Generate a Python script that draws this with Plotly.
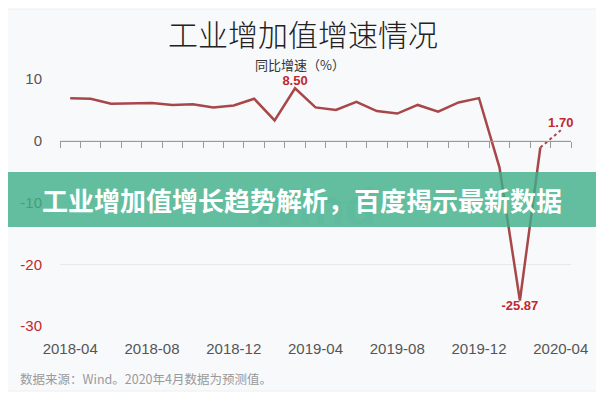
import plotly.graph_objects as go

# ---- data ----
months = ["2018-04", "2018-05", "2018-06", "2018-07", "2018-08", "2018-09", "2018-10",
          "2018-11", "2018-12", "2019-01", "2019-02", "2019-03", "2019-04", "2019-05",
          "2019-06", "2019-07", "2019-08", "2019-09", "2019-10", "2019-11", "2019-12",
          "2020-01", "2020-02", "2020-03", "2020-04"]
growth = [6.9, 6.8, 6.0, 6.0, 6.1, 5.8, 5.9, 5.4, 5.7, 6.8, 3.3, 8.5, 5.4, 5.0,
          6.3, 4.8, 4.4, 5.8, 4.7, 6.2, 6.9, -4.3, -25.87, -1.1, 1.70]
actual_count = 24          # last value is a forecast
tick_labels = ["2018-04", "2018-08", "2018-12", "2019-04", "2019-08", "2019-12", "2020-04"]
y_ticks = [-30, -20, -10, 0, 10]
labelled = {"2019-03": "8.50", "2020-02": "-25.87", "2020-04": "1.70"}

title_text = "工业增加值增速情况"
subtitle_text = "同比增速（%）"
banner_text = "工业增加值增长趋势解析，百度揭示最新数据"
note_text = "数据来源：Wind。2020年4月数据为预测值。"

# ---- geometry helpers (page pixels; the page adds an 8px body margin) ----
OFF = 8
W, H = 596, 392
PLOT_L, PLOT_R, PLOT_T, PLOT_B = 60, 571, 79, 326   # page pixels
L, T = PLOT_L - OFF, PLOT_T - OFF
PW, PH = PLOT_R - PLOT_L, PLOT_B - PLOT_T
R, B = W - L - PW, H - T - PH


def px(x):
    return (x - PLOT_L) / PW


def py(y):
    return (PLOT_B - y) / PH


LINE = "#a8474a"
RED = "#c0282d"
CJK = "Noto Sans CJK SC"
LAT = "Liberation Sans, Arial"

act_x = months[:actual_count]
act_y = growth[:actual_count]
act_text = [labelled.get(m, "") for m in act_x]
act_pos = ["bottom center" if v < 0 else "top center" for v in act_y]

fc_x = months[actual_count - 1:]
fc_y = growth[actual_count - 1:]
fc_text = [labelled.get(m, "") for m in fc_x]

fig = go.Figure()
# invisible trace registering categories on the zero-line axis
fig.add_trace(go.Scatter(x=months, y=growth, xaxis="x2", yaxis="y", mode="lines",
                         line=dict(width=0), opacity=0, hoverinfo="skip", showlegend=False))
fig.add_trace(go.Scatter(x=act_x, y=act_y, mode="lines+text", text=act_text,
                         textposition=act_pos,
                         textfont=dict(family=LAT, size=13, color=RED, weight="bold"),
                         line=dict(color=LINE, width=2.5), showlegend=False, cliponaxis=False))
fig.add_trace(go.Scatter(x=fc_x, y=fc_y, mode="lines+text", text=fc_text,
                         textposition="top center",
                         textfont=dict(family=LAT, size=13, color=RED, weight="bold"),
                         line=dict(color=LINE, width=2, dash="dot"), showlegend=False,
                         cliponaxis=False))

ytext = []
for v in y_ticks:
    col = RED if v < -10 else "#555555"
    ytext.append(f'<span style="color:{col}">{v}</span>')

fig.update_layout(
    width=W, height=H, autosize=False,
    margin=dict(l=L, r=R, t=T, b=B, pad=0),
    paper_bgcolor="white", plot_bgcolor="rgba(0,0,0,0)",
    xaxis=dict(type="category", categoryorder="array", categoryarray=months,
               range=[-0.5, len(months) - 0.5],
               tickmode="array", tickvals=tick_labels, ticktext=tick_labels,
               ticks="", showline=False, showgrid=False, zeroline=False,
               tickfont=dict(family=LAT, size=15, color="#555555"),
               ticklabelstandoff=12),
    xaxis2=dict(type="category", categoryorder="array", categoryarray=months,
                overlaying="x", anchor="free", position=30 / 40,
                range=[-0.5, len(months) - 0.5],
                showline=True, linecolor="#9a9a9a", linewidth=1,
                ticks="outside", ticklen=6, tickcolor="#9a9a9a", tickwidth=1,
                tickson="boundaries", showticklabels=False, showgrid=False, zeroline=False),
    yaxis=dict(range=[-30, 10], tickmode="array", tickvals=y_ticks, ticktext=ytext,
               showgrid=True, gridcolor="#e7e8ea", gridwidth=1, zeroline=False,
               showline=False, ticks="",
               tickfont=dict(family=LAT, size=15, color="#555555"),
               ticklabelstandoff=17),
    shapes=[
        dict(type="rect", xref="paper", yref="paper", x0=px(7), x1=px(597),
             y0=py(391), y1=py(9), fillcolor="#f8f9fb", line=dict(color="#eceef1", width=1),
             layer="below"),
    ],
    annotations=[
        dict(text=title_text, xref="paper", yref="paper", x=px(303), y=py(33),
             xanchor="center", yanchor="middle",
             showarrow=False, font=dict(family=CJK, size=30, color="#222222", weight=300)),
        dict(text=subtitle_text, xref="paper", yref="paper", x=px(300), y=py(64),
             xanchor="center", yanchor="middle",
             showarrow=False, font=dict(family=CJK, size=13, color="#333333")),
        dict(text="Wind", xref="paper", yref="paper", x=px(313), y=py(207),
             xanchor="center", yanchor="middle",
             showarrow=False, font=dict(family=LAT, size=52, color="rgba(200,202,208,0.3)",
                                        weight="bold")),
        dict(text=banner_text, xref="paper", yref="paper", x=px(302), y=py(199.5),
             xanchor="center", yanchor="middle",
             showarrow=False, width=W + 20, height=55, borderpad=0, borderwidth=0,
             bgcolor="rgba(61,175,138,0.80)",
             font=dict(family=CJK, size=26, color="white", weight="bold")),
        dict(text=note_text, xref="paper", yref="paper", x=px(18), y=py(378),
             xanchor="left", yanchor="middle", showarrow=False,
             font=dict(family=CJK, size=12.5, color="#9a9a9a")),
    ],
)

fig.write_html("out.html")
